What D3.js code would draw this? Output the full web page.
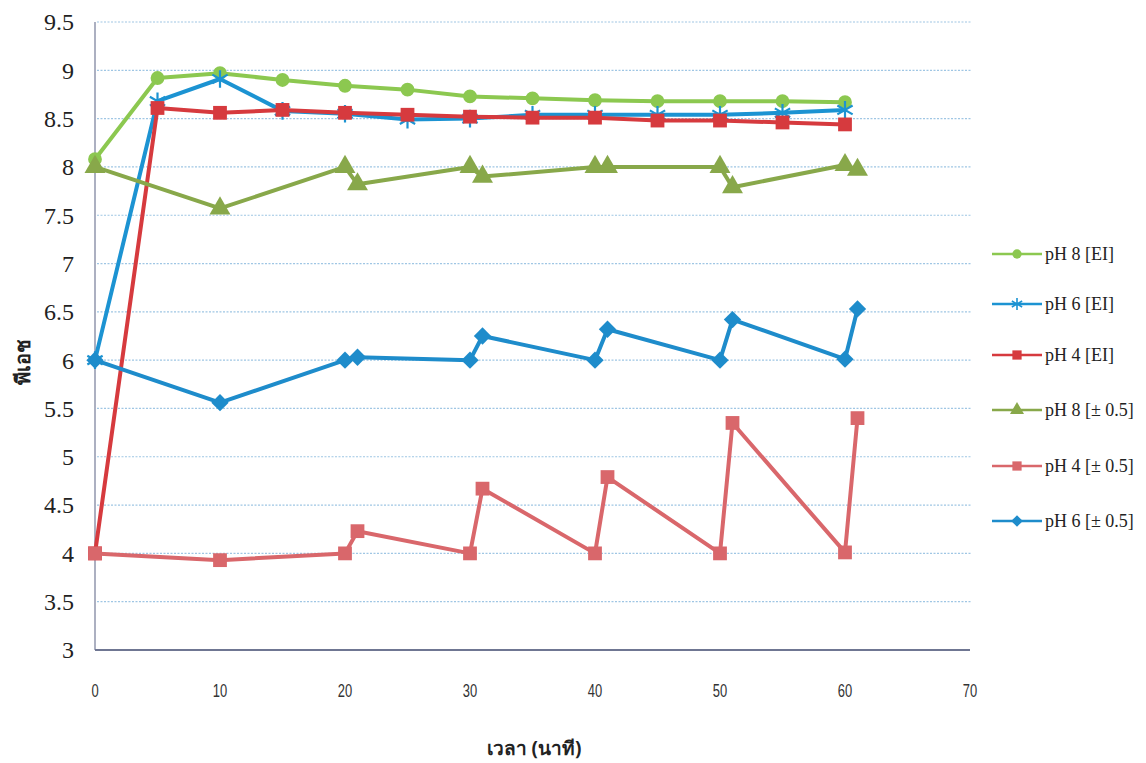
<!DOCTYPE html>
<html><head><meta charset="utf-8">
<script src="https://cdn.jsdelivr.net/npm/d3@7"></script>
<style>body{margin:0;background:#fff}</style>
</head><body>
<svg id="c" width="1146" height="763"></svg>
<script>
const yTicks = [3,3.5,4,4.5,5,5.5,6,6.5,7,7.5,8,8.5,9,9.5];
const xTicks = [0,10,20,30,40,50,60,70];

const xEI = [0,5,10,15,20,25,30,35,40,45,50,55,60];
const ph8EI = [8.08,8.92,8.97,8.90,8.84,8.80,8.73,8.71,8.69,8.68,8.68,8.68,8.67];
const ph6EI = [6.00,8.68,8.91,8.58,8.55,8.49,8.50,8.54,8.54,8.54,8.54,8.56,8.59];
const ph4EI = [4.00,8.61,8.56,8.59,8.56,8.54,8.52,8.51,8.51,8.48,8.48,8.46,8.44];

const xPM = [0,10,20,21,30,31,40,41,50,51,60,61];
const ph8PM = [8.00,7.57,8.00,7.82,8.00,7.90,8.00,8.00,8.00,7.79,8.02,7.97];
const ph4PM = [4.00,3.93,4.00,4.23,4.00,4.67,4.00,4.79,4.00,5.35,4.01,5.40];
const ph6PM = [6.00,5.56,6.00,6.03,6.00,6.25,6.00,6.32,6.00,6.42,6.01,6.53];

const seriesNames = ["pH 8 [EI]","pH 6 [EI]","pH 4 [EI]","pH 8 [± 0.5]","pH 4 [± 0.5]","pH 6 [± 0.5]"];

const series = [
  {name: seriesNames[0], xs: xEI, ys: ph8EI, color: "#8cc850", sym: "circle"},
  {name: seriesNames[1], xs: xEI, ys: ph6EI, color: "#1c93d2", sym: "asterisk"},
  {name: seriesNames[2], xs: xEI, ys: ph4EI, color: "#d63a3e", sym: "square"},
  {name: seriesNames[3], xs: xPM, ys: ph8PM, color: "#88a84a", sym: "triangle"},
  {name: seriesNames[4], xs: xPM, ys: ph4PM, color: "#d9676b", sym: "square"},
  {name: seriesNames[5], xs: xPM, ys: ph6PM, color: "#1e8ccb", sym: "diamond"}
];

const svg = d3.select("#c");
const x = d3.scaleLinear().domain([0,70]).range([95,970]);
const y = d3.scaleLinear().domain([3,9.5]).range([650,22]);

// gridlines
svg.append("g").selectAll("line").data(yTicks.filter(d=>d>3)).join("line")
  .attr("x1", x(0)+2).attr("x2", x(70)+2)
  .attr("y1", d=>y(d)).attr("y2", d=>y(d))
  .attr("stroke","#9fc6e4").attr("stroke-width",1.2).attr("stroke-dasharray","2,1.5");

// axes lines
svg.append("line").attr("x1",x(0)).attr("x2",x(0)).attr("y1",y(9.5)).attr("y2",y(3))
  .attr("stroke","#9096ad").attr("stroke-width",1.5);
svg.append("line").attr("x1",x(0)).attr("x2",x(70)).attr("y1",y(3)).attr("y2",y(3))
  .attr("stroke","#6f7692").attr("stroke-width",2);

// y tick labels
svg.append("g").selectAll("text").data(yTicks).join("text")
  .attr("x",74).attr("y",d=>y(d)).attr("dy","0.35em")
  .attr("text-anchor","end")
  .attr("font-family","Liberation Serif, Times New Roman, serif")
  .attr("font-size",24).attr("fill","#222")
  .text(d=>d);

// x tick labels
svg.append("g").selectAll("text").data(xTicks).join("text")
  .attr("x",d=>x(d)).attr("y",697)
  .attr("text-anchor","middle")
  .attr("font-family","Liberation Sans, Arial, sans-serif")
  .attr("font-size",18).attr("fill","#333")
  .attr("transform",d=>`translate(${x(d)},0) scale(0.72,1) translate(${-x(d)},0)`)
  .text(d=>d);

// axis titles
svg.append("text").attr("transform","translate(30,362) rotate(-90)")
  .attr("text-anchor","middle").attr("font-family","Noto Sans, DejaVu Sans, sans-serif")
  .attr("font-weight","bold").attr("font-size",20).attr("fill","#222").text("พีเอช");
svg.append("text").attr("x",534).attr("y",755)
  .attr("text-anchor","middle").attr("font-family","Noto Sans, DejaVu Sans, sans-serif")
  .attr("font-weight","bold").attr("font-size",19).attr("fill","#222").text("เวลา (นาที)");

function symPath(sym, big) {
  const k = big ? 1 : 0.45;
  const m = {circle:[d3.symbolCircle,150], asterisk:[d3.symbolAsterisk,220], square:[d3.symbolSquare,190],
             triangle:[d3.symbolTriangle,190], diamond:[d3.symbolSquare,150]}[sym];
  return d3.symbol().type(m[0]).size(m[1]*k)();
}
function drawMarker(g, sym, color, big) {
  const p = g.append("path").attr("d", symPath(sym, big));
  if (sym === "asterisk") p.attr("fill","none").attr("stroke",color).attr("stroke-width", big?2.2:1.6);
  else p.attr("fill",color);
  if (sym === "diamond") p.attr("transform","rotate(45)");
}

const line = d3.line().x(d=>x(d[0])).y(d=>y(d[1]));
series.forEach(s => {
  const pts = s.xs.map((v,i)=>[v, s.ys[i]]);
  const g = svg.append("g");
  g.append("path").datum(pts).attr("d",line).attr("fill","none")
    .attr("stroke",s.color).attr("stroke-width",4).attr("stroke-linejoin","round");
  pts.forEach(p => {
    const mg = g.append("g").attr("transform",`translate(${x(p[0])},${y(p[1])})`);
    drawMarker(mg, s.sym, s.color, true);
  });
});

// legend
const legY = [254,304,355,410,466,521];
series.forEach((s,i) => {
  const g = svg.append("g").attr("transform",`translate(992,${legY[i]})`);
  g.append("line").attr("x1",0).attr("x2",50).attr("stroke",s.color).attr("stroke-width",2.5);
  const mg = g.append("g").attr("transform","translate(25,0)");
  drawMarker(mg, s.sym, s.color, false);
  g.append("text").attr("x",53).attr("dy","0.35em")
    .attr("font-family","Liberation Serif, Times New Roman, serif")
    .attr("font-size",18).attr("fill","#222").text(s.name);
});
</script>
</body></html>
